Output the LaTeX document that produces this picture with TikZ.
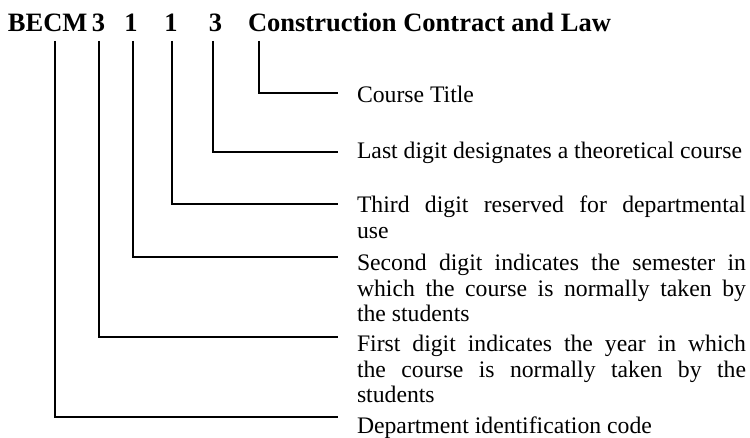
\documentclass[tikz,border=0pt]{standalone}
\usepackage{fontspec}
\setmainfont{Liberation Serif}
\hbadness=10000
\begin{document}
\begin{tikzpicture}[x=1pt,y=-1pt,
  titletext/.style={font=\fontsize{26.5}{29}\selectfont\bfseries, inner sep=0pt, outer sep=0pt},
  desc/.style={font=\fontsize{23.7}{25.5}\selectfont, inner sep=0pt, outer sep=0pt,
               text width=389pt, align=justify, anchor=base west},
  leader/.style={line width=1.3pt, line join=miter}]
\useasboundingbox (0,0) rectangle (750,438);

% title tokens
\node[titletext, anchor=base west] (becm) at (8,32) {BECM};
\node[titletext, anchor=base] (d1) at (98.5,32) {3};
\node[titletext, anchor=base] (d2) at (131,32) {1};
\node[titletext, anchor=base] (d3) at (171,32) {1};
\node[titletext, anchor=base] (d4) at (215.5,32) {3};
\node[titletext, anchor=base west] (ctitle) at (248,32) {Construction Contract and Law};

% descriptions
\node[desc] (tCourse) at (357,103) {Course Title};
\node[desc] (tLast) at (357,159) {Last digit designates a theoretical course};
\node[desc] (tThird) at (357,213) {Third digit reserved for departmental\linebreak use};
\node[desc] (tSecond) at (357,271) {Second digit indicates the semester in\linebreak which the course is normally taken by\linebreak the students};
\node[desc] (tFirst) at (357,352) {First digit indicates the year in which\linebreak the course is normally taken by the\linebreak students};
\node[desc] (tDept) at (357,433) {Department identification code};

% leader start points (below the title tokens)
\coordinate (sTitle) at (259,41);
\coordinate (sLast) at (213,41);
\coordinate (sThird) at (172,41);
\coordinate (sSecond) at (133,41);
\coordinate (sFirst) at (99,41);
\coordinate (sDept) at (55,41);
% leader end points (before the descriptions)
\coordinate (eTitle) at (338,93);
\coordinate (eLast) at (338,152);
\coordinate (eThird) at (338,204);
\coordinate (eSecond) at (338,257);
\coordinate (eFirst) at (338,337);
\coordinate (eDept) at (338,417);

\draw[leader] (sTitle) |- (eTitle);
\draw[leader] (sLast) |- (eLast);
\draw[leader] (sThird) |- (eThird);
\draw[leader] (sSecond) |- (eSecond);
\draw[leader] (sFirst) |- (eFirst);
\draw[leader] (sDept) |- (eDept);
\end{tikzpicture}
\end{document}
